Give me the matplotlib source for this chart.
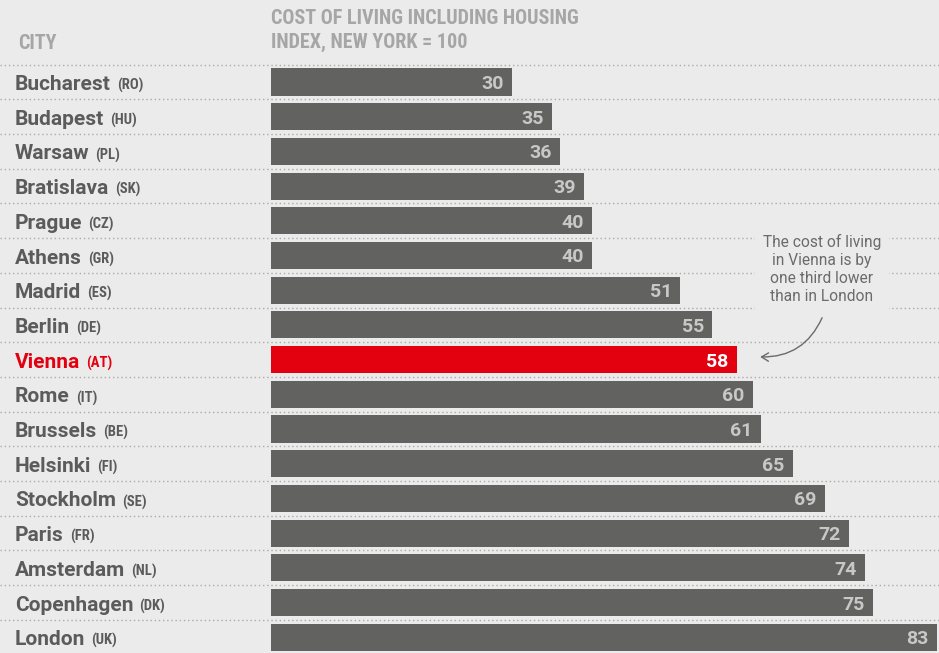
import matplotlib
matplotlib.use("Agg")
import matplotlib.pyplot as plt
from matplotlib.transforms import blended_transform_factory

cities = ["Bucharest", "Budapest", "Warsaw", "Bratislava", "Prague", "Athens",
          "Madrid", "Berlin", "Vienna", "Rome", "Brussels", "Helsinki",
          "Stockholm", "Paris", "Amsterdam", "Copenhagen", "London"]
codes = ["RO", "HU", "PL", "SK", "CZ", "GR", "ES", "DE", "AT", "IT", "BE",
         "FI", "SE", "FR", "NL", "DK", "UK"]
values = [30, 35, 36, 39, 40, 40, 51, 55, 58, 60, 61, 65, 69, 72, 74, 75, 83]
highlight = "Vienna"

header_city = "CITY"
header_value = "COST OF LIVING INCLUDING HOUSING\nINDEX, NEW YORK = 100"
note = "The cost of living\nin Vienna is by\none third lower\nthan in London"

BG = "#ebebeb"
BAR = "#626261"
RED = "#e3000f"
LABEL = "#5b5b5b"
HEAD = "#a6a6a6"
DOT = "#ababab"

W, H = 939, 653
fig = plt.figure(figsize=(W / 100, H / 100), dpi=100, facecolor=BG)

# bar area in pixel terms
x0, x1 = 271, 938
row0, pitch = 82, 34.7
n = len(cities)
top_px = row0 - pitch / 2
bot_px = row0 + (n - 0.5) * pitch
ax = fig.add_axes([x0 / W, 1 - bot_px / H, (x1 - x0) / W, (bot_px - top_px) / H])
ax.set_facecolor(BG)
ax.set_xlim(0, 83.1)
ax.set_ylim(n - 0.5, -0.5)
ax.axis("off")

narrow = dict(family=["Roboto Condensed", "DejaVu Sans"], stretch="condensed")
sans = ["Roboto", "DejaVu Sans"]

ypos = list(range(n))
colors = [RED if c == highlight else BAR for c in cities]
ax.barh(ypos, values, height=0.78, color=colors, zorder=3)

for y, v, c in zip(ypos, values, cities):
    ax.annotate(str(v), xy=(v, y), xytext=(-6, 0), textcoords="offset points",
                ha="right", va="center_baseline", fontsize=14, fontweight="bold",
                family=sans, color="white" if c == highlight else "#c8c8c8",
                zorder=4)

# dotted separators spanning the whole width
trans = blended_transform_factory(fig.transFigure, ax.transData)
for k in range(n):
    ax.plot([0, 1], [k - 0.5, k - 0.5], transform=trans, color=DOT, lw=1,
            linestyle=(0, (1, 2)), clip_on=False, zorder=1)

# city labels with country codes, sharing one baseline
base = 8 / pitch
name_texts = []
for y, c in zip(ypos, cities):
    col = RED if c == highlight else LABEL
    t = ax.text(15 / W, y + base, c, transform=trans, ha="left", va="baseline",
                fontsize=15, fontweight="bold", family=sans, color=col)
    name_texts.append(t)

fig.canvas.draw()
renderer = fig.canvas.get_renderer()
for t, code, c in zip(name_texts, codes, cities):
    bb = t.get_window_extent(renderer)
    xf = (bb.x1 + 6) / W
    col = RED if c == highlight else LABEL
    ax.text(xf, t.get_position()[1], f"({code})", transform=trans, ha="left",
            va="baseline", fontsize=10.5, fontweight="bold", color=col,
            **narrow)

# headers
fig.text(18 / W, 1 - 49 / H, header_city, ha="left", va="baseline",
         fontsize=14.5, fontweight="bold", color=HEAD, **narrow)
fig.text(271 / W, 1 - 48 / H, header_value, ha="left", va="baseline",
         fontsize=14.5, fontweight="bold", color=HEAD, linespacing=1.36, **narrow)

# annotation
ax.text(68.65, 5.39, note, ha="center", va="center", fontsize=11.2,
        family=sans, color="#6b6b6b", linespacing=1.24, zorder=5,
        bbox=dict(boxstyle="square,pad=0.5", facecolor=BG, edgecolor="none"))
ax.annotate("", xy=(60.6, 7.92), xytext=(68.8, 6.72),
            arrowprops=dict(arrowstyle="->,head_length=0.5,head_width=0.3",
                            color="#6b6b6b", lw=1,
                            connectionstyle="arc3,rad=-0.35"), zorder=5)

fig.savefig("out.png", dpi=100, facecolor=BG)
